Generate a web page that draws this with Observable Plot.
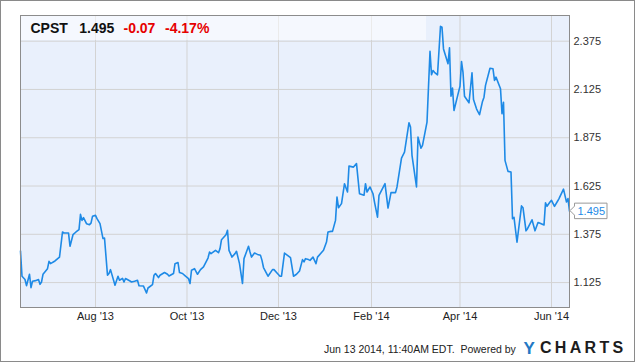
<!DOCTYPE html>
<html>
<head>
<meta charset="utf-8">
<script src="https://cdn.jsdelivr.net/npm/d3@7"></script>
<script src="https://cdn.jsdelivr.net/npm/@observablehq/plot@0.6"></script>
<style>
  html, body { margin: 0; padding: 0; background: #fff; }
  #wrap { position: relative; width: 635px; height: 362px; overflow: hidden; font-family: "Liberation Sans", Arial, sans-serif; }
  #wrap svg { display: block; }
  .abs { position: absolute; white-space: nowrap; line-height: 1; }
</style>
</head>
<body>
<div id="wrap"></div>
<script>
// ---- data ----
const dates = [
"2013-06-12","2013-06-13","2013-06-15","2013-06-16","2013-06-18","2013-06-19","2013-06-20","2013-06-22","2013-06-24","2013-06-25","2013-06-26","2013-06-27","2013-06-30",
"2013-07-01","2013-07-02","2013-07-05","2013-07-08","2013-07-10","2013-07-11","2013-07-14","2013-07-15","2013-07-17","2013-07-19","2013-07-21","2013-07-22","2013-07-23","2013-07-24","2013-07-26","2013-07-28","2013-07-29","2013-07-30",
"2013-08-01","2013-08-02","2013-08-04","2013-08-06","2013-08-07","2013-08-09","2013-08-10","2013-08-11","2013-08-14","2013-08-16","2013-08-17","2013-08-19","2013-08-20","2013-08-21","2013-08-24","2013-08-25","2013-08-27","2013-08-29","2013-08-30",
"2013-09-02","2013-09-04","2013-09-05","2013-09-08","2013-09-09","2013-09-10","2013-09-12","2013-09-13","2013-09-16","2013-09-18","2013-09-19","2013-09-22","2013-09-23","2013-09-25","2013-09-26","2013-09-28","2013-09-30",
"2013-10-02","2013-10-03","2013-10-04","2013-10-06","2013-10-08","2013-10-10","2013-10-12","2013-10-15","2013-10-16","2013-10-17","2013-10-20","2013-10-22","2013-10-23","2013-10-24","2013-10-27","2013-10-28","2013-10-29","2013-10-31",
"2013-11-02","2013-11-03","2013-11-05","2013-11-07","2013-11-08","2013-11-11","2013-11-12","2013-11-13","2013-11-15","2013-11-17","2013-11-19","2013-11-20","2013-11-21","2013-11-24","2013-11-27","2013-11-28","2013-11-30",
"2013-12-02","2013-12-03","2013-12-05","2013-12-07","2013-12-09","2013-12-11","2013-12-13","2013-12-15","2013-12-17","2013-12-18","2013-12-19","2013-12-21","2013-12-22","2013-12-24","2013-12-26","2013-12-27","2013-12-31",
"2014-01-02","2014-01-03","2014-01-05","2014-01-06","2014-01-08","2014-01-09","2014-01-10","2014-01-12","2014-01-14","2014-01-16","2014-01-17","2014-01-20","2014-01-22","2014-01-24","2014-01-27","2014-01-28","2014-01-29","2014-01-31",
"2014-02-02","2014-02-03","2014-02-05","2014-02-06","2014-02-10","2014-02-12","2014-02-14","2014-02-17","2014-02-18","2014-02-21","2014-02-23","2014-02-26","2014-02-27","2014-02-28",
"2014-03-03","2014-03-04","2014-03-06","2014-03-07","2014-03-10","2014-03-12","2014-03-13","2014-03-14","2014-03-15","2014-03-17","2014-03-19","2014-03-20","2014-03-21","2014-03-24","2014-03-25","2014-03-26","2014-03-27","2014-03-28","2014-03-31",
"2014-04-01","2014-04-02","2014-04-03","2014-04-04","2014-04-07","2014-04-09","2014-04-10","2014-04-12","2014-04-14","2014-04-16","2014-04-17","2014-04-18","2014-04-21","2014-04-23","2014-04-24","2014-04-25","2014-04-28","2014-04-29","2014-04-30",
"2014-05-01","2014-05-03","2014-05-05","2014-05-06","2014-05-07","2014-05-09","2014-05-12","2014-05-13","2014-05-15","2014-05-16","2014-05-19","2014-05-21","2014-05-23","2014-05-24","2014-05-27","2014-05-28","2014-05-29","2014-05-31",
"2014-06-01","2014-06-03","2014-06-05","2014-06-06","2014-06-09","2014-06-11","2014-06-12","2014-06-13"
];
const prices = [
1.288,1.158,1.141,1.109,1.168,1.099,1.132,1.135,1.141,1.116,1.128,1.168,1.197,
1.235,1.223,1.237,1.257,1.387,1.382,1.382,1.313,1.373,1.387,1.399,1.478,1.447,1.461,1.430,1.425,1.433,1.468,
1.473,1.456,1.430,1.353,1.356,1.163,1.172,1.192,1.111,1.158,1.137,1.147,1.128,1.146,1.133,1.128,1.132,1.137,1.109,
1.107,1.071,1.097,1.115,1.163,1.172,1.151,1.163,1.177,1.168,1.159,1.172,1.223,1.229,1.177,1.172,1.158,
1.146,1.120,1.189,1.197,1.168,1.192,1.206,1.252,1.283,1.275,1.292,1.280,1.301,1.347,1.373,1.396,1.292,1.257,
1.275,1.287,1.223,1.120,1.249,1.313,1.283,1.257,1.278,1.271,1.266,1.240,1.203,1.158,1.192,1.192,1.175,
1.158,1.158,1.278,1.266,1.254,1.158,1.168,1.185,1.244,1.232,1.249,1.244,1.240,1.257,1.223,1.257,1.292,
1.335,1.387,1.390,1.390,1.447,1.568,1.513,1.534,1.637,1.594,1.728,1.723,1.741,1.585,1.577,1.637,1.594,1.620,
1.585,1.542,1.464,1.577,1.637,1.511,1.591,1.591,1.620,1.770,1.801,1.953,1.930,1.784,
1.620,1.878,1.821,1.835,1.956,2.322,2.201,2.223,2.214,2.201,2.452,2.447,2.335,2.258,2.341,2.090,2.132,2.016,2.111,
2.142,2.270,2.214,2.090,2.056,2.211,2.073,2.025,1.994,2.063,2.085,2.146,2.235,2.232,2.172,2.189,2.129,1.999,2.059,
1.758,1.701,1.698,1.456,1.463,1.334,1.522,1.513,1.393,1.404,1.450,1.393,1.436,1.433,1.423,1.538,1.520,1.542,
1.551,1.520,1.546,1.560,1.609,1.542,1.560,1.495
];
const xTickDates = ["2013-08-01","2013-10-01","2013-12-01","2014-02-01","2014-04-01","2014-06-01"];
const yTickValues = [1.125, 1.375, 1.625, 1.875, 2.125, 2.375];
const xDomain = ["2013-06-12", "2014-06-13"];
const yDomain = [0.996, 2.508];
const ticker = "CPST";
const lastPrice = "1.495";
const change = "-0.07";
const changePct = "-4.17%";
const footerText = "Jun 13 2014, 11:40AM EDT.  Powered by";

// ---- build ----
const parse = d3.utcParse("%Y-%m-%d");
const data = dates.map((d, i) => ({date: parse(d), price: prices[i]}));
const xTicks = xTickDates.map(parse);
const lineColor = "#1e8ae6";

const chart = Plot.plot({
  width: 635,
  height: 362,
  marginLeft: 20,
  marginRight: 66,
  marginTop: 15,
  marginBottom: 55,
  style: {fontFamily: "'Liberation Sans', Arial, sans-serif", fontSize: "11px", color: "#333", background: "transparent"},
  x: {type: "utc", domain: xDomain.map(parse)},
  y: {domain: yDomain},
  marks: [
    Plot.frame({fill: "#e9f0fc"}),
    Plot.gridX(xTicks, {stroke: "#d3d3d3", strokeOpacity: 1}),
    Plot.gridY(yTickValues, {stroke: "#d3d3d3", strokeOpacity: 1}),
    Plot.axisX(xTicks, {tickSize: 0, tickPadding: 5, tickFormat: d3.utcFormat("%b '%y"), fill: "#222", label: null}),
    Plot.axisY(yTickValues, {anchor: "right", tickSize: 0, tickPadding: 4, tickFormat: d => d.toFixed(3), fill: "#333", label: null}),
    Plot.lineY(data, {x: "date", y: "price", stroke: lineColor, strokeWidth: 1.6}),
    Plot.frame({stroke: "#8c8c8c"})
  ]
});

// last-value flag, positioned through the plot's own scales
const last = data[data.length - 1];
const lx = chart.scale("x").apply(last.date);
const ly = chart.scale("y").apply(last.price);
const g = d3.select(chart).append("g");
g.append("path")
  .attr("d", `M${lx + 1},${ly} L${lx + 5.5},${ly - 4.5} L${lx + 5.5},${ly - 7.5} L${lx + 38},${ly - 7.5} L${lx + 38},${ly + 8} L${lx + 5.5},${ly + 8} L${lx + 5.5},${ly + 4.5} Z`)
  .attr("fill", "#fff").attr("stroke", "#999").attr("stroke-width", 1);
g.append("text")
  .attr("x", lx + 8.5).attr("y", ly).attr("dy", "0.36em")
  .attr("text-anchor", "start")
  .attr("fill", lineColor).attr("font-size", 11)
  .text(last.price.toFixed(3));

const wrap = document.getElementById("wrap");
wrap.appendChild(chart);

// header band + quote
const band = document.createElement("div");
band.className = "abs";
band.style.cssText = "left:21px;top:16px;width:405px;height:24px;background:rgba(255,255,255,0.55);";
wrap.appendChild(band);

function addText(txt, left, top, css) {
  const s = document.createElement("div");
  s.className = "abs";
  s.textContent = txt;
  s.style.cssText += `left:${left}px;top:${top}px;` + css;
  wrap.appendChild(s);
  return s;
}
addText(ticker, 30.5, 21.2, "font-size:14px;font-weight:bold;color:#111;");
addText(lastPrice, 79.3, 21.2, "font-size:14px;font-weight:bold;color:#111;");
addText(change, 123.5, 21.2, "font-size:14px;font-weight:bold;color:#e60000;");
addText(changePct, 165, 21.2, "font-size:14px;font-weight:bold;color:#e60000;");

// footer
addText(footerText, 324, 344, "font-size:10.5px;color:#222;white-space:pre;");
addText("Y", 523.5, 339.8, "font-size:17px;font-weight:bold;color:#2378c4;");
addText("CHARTS", 540, 339.8, "font-size:16px;font-weight:bold;color:#1c1c1c;letter-spacing:3.3px;");

// outer border
const border = document.createElement("div");
border.className = "abs";
border.style.cssText = "left:0;top:0;width:635px;height:362px;box-sizing:border-box;border:1px solid #8a8a8a;";
wrap.appendChild(border);
</script>
</body>
</html>
